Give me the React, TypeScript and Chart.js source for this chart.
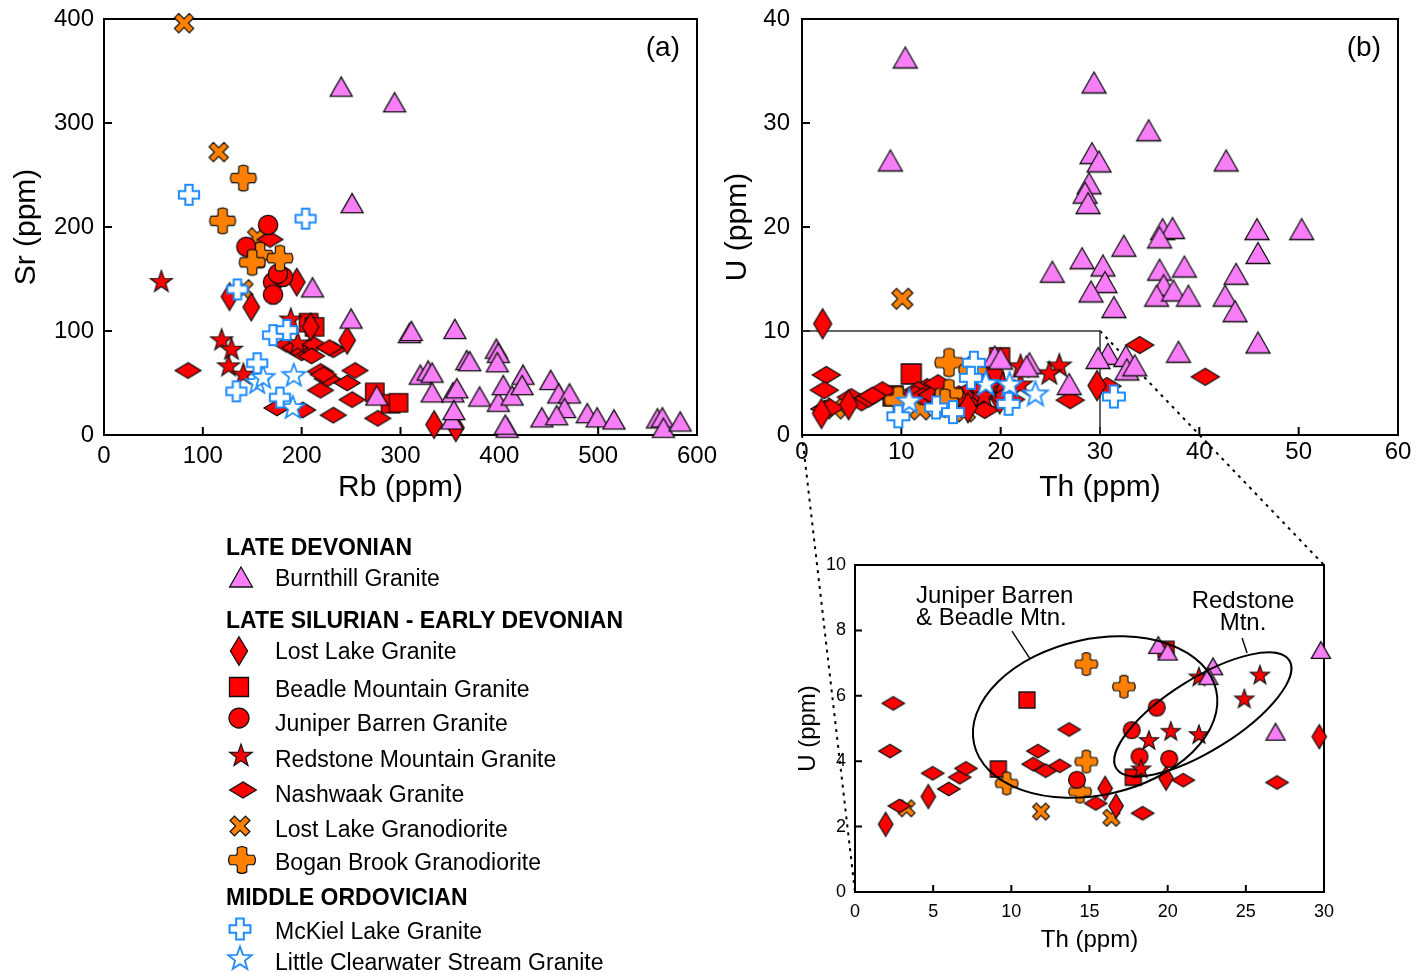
import React, { useEffect, useRef } from 'react';
import { Chart, registerables } from 'chart.js';

Chart.register(...registerables);

// ---------------- Panel (a): Rb (ppm) vs Sr (ppm) ----------------
const aXTicks = [0, 100, 200, 300, 400, 500, 600];
const aYTicks = [0, 100, 200, 300, 400];

const aBurnthillRb = [240, 294, 251, 211, 250, 309, 311, 355, 397, 399, 398, 367, 370, 320, 328, 332, 332, 353, 357, 380, 399, 404, 413, 408, 406, 424, 423, 443, 452, 460, 471, 466, 458, 489, 499, 516, 560, 565, 566, 583, 276, 352, 354];
const aBurnthillSr = [335, 320, 223, 142, 112, 98, 100, 102, 83, 79, 70, 72, 71, 58, 62, 60, 41, 41, 45, 37, 32, 48, 38, 7, 10, 58, 48, 17, 53, 40, 40, 26, 19, 21, 17, 15, 16, 17, 7, 13, 38, 15, 24];
const aLostLakeRb = [195, 149, 127, 209, 246, 334, 356];
const aLostLakeSr = [147, 123, 133, 104, 91, 10, 7];
const aBeadleRb = [207, 213, 274, 290, 298];
const aBeadleSr = [108, 104, 41, 30, 31];
const aJuniperRb = [166, 144, 171, 181, 171, 176];
const aJuniperSr = [202, 181, 147, 152, 135, 155];
const aRedstoneRb = [58, 119, 129, 126, 141, 189, 196];
const aRedstoneSr = [147, 91, 82, 66, 58, 111, 88];
const aNashwaakRb = [85, 168, 175, 201, 232, 277, 185, 212, 232, 200, 219, 226, 254, 246, 219, 251, 210, 222, 193, 228];
const aNashwaakSr = [62, 188, 26, 24, 19, 16, 87, 87, 82, 79, 61, 54, 62, 50, 43, 34, 76, 58, 84, 84];
const aLostLakeGrdRb = [81, 116, 155, 141];
const aLostLakeGrdSr = [396, 272, 190, 140];
const aBoganRb = [141, 120, 158, 150, 178];
const aBoganSr = [247, 206, 173, 166, 170];
const aMcKielRb = [86, 204, 135, 171, 185, 155, 134, 178];
const aMcKielSr = [231, 208, 140, 96, 101, 69, 42, 36];
const aLcsRb = [155, 161, 192, 191];
const aLcsSr = [50, 55, 57, 26];

// ---------------- Inset: Th (ppm) vs U (ppm), 0-30 / 0-10 ----------------
const zoomBoxTh = [0, 30];
const zoomBoxU = [0, 10];
const cXTicks = [0, 5, 10, 15, 20, 25, 30];
const cYTicks = [0, 2, 4, 6, 8, 10];

const cBurnthillTh = [19.4, 20.0, 22.9, 22.6, 26.9, 29.8];
const cBurnthillU = [7.55, 7.35, 6.9, 6.6, 4.9, 7.4];
const cLostLakeTh = [1.96, 4.69, 16.0, 16.7, 19.9, 29.7];
const cLostLakeU = [2.07, 2.92, 3.17, 2.63, 3.48, 4.75];
const cBeadleTh = [11.0, 9.17, 17.8, 19.9];
const cBeadleU = [5.87, 3.76, 3.51, 7.42];
const cJuniperTh = [19.3, 17.7, 18.2, 20.1, 14.2];
const cJuniperU = [5.64, 4.95, 4.14, 4.07, 3.43];
const cRedstoneTh = [22.0, 25.9, 24.9, 20.2, 22.0, 18.8, 18.3];
const cRedstoneU = [6.56, 6.62, 5.89, 4.9, 4.8, 4.62, 3.75];
const cNashwaakTh = [2.45, 2.24, 4.97, 6.0, 6.7, 7.1, 2.84, 11.7, 11.4, 12.2, 13.1, 13.7, 15.4, 18.4, 21.0, 27.0];
const cNashwaakU = [5.77, 4.31, 3.63, 3.15, 3.51, 3.78, 2.63, 4.31, 3.91, 3.71, 3.86, 4.97, 2.71, 2.41, 3.42, 3.35];
const cLostLakeGrdTh = [3.3, 11.9, 16.4];
const cLostLakeGrdU = [2.56, 2.46, 2.27];
const cBoganTh = [14.8, 17.2, 14.8, 9.7, 14.4];
const cBoganU = [6.97, 6.28, 3.99, 3.32, 3.07];

// ---------------- Panel (b): Th (ppm) vs U (ppm) ----------------
const bXTicks = [0, 10, 20, 30, 40, 50, 60];
const bYTicks = [0, 10, 20, 30, 40];

const bBurnthillTh = [10.4, 8.9, 29.4, 34.9, 29.2, 29.9, 42.7, 28.9, 28.5, 28.8, 36.3, 37.3, 36.0, 45.8, 50.3, 32.4, 45.9, 28.2, 30.3, 25.2, 36.0, 38.5, 43.7, 30.5, 36.4, 29.1, 35.7, 37.4, 38.9, 42.6, 31.4, 43.6, 45.9, 37.9, 30.8, 32.6, 32.7, 33.5];
const bBurnthillU = [36.3, 26.4, 33.9, 29.3, 27.1, 26.3, 26.4, 24.2, 23.3, 22.3, 19.8, 19.9, 19.0, 19.8, 19.8, 18.2, 17.5, 17.0, 16.3, 15.7, 15.9, 16.2, 15.5, 14.7, 14.4, 13.8, 13.4, 13.9, 13.4, 13.4, 12.3, 11.9, 8.9, 8.0, 7.8, 7.6, 6.3, 6.7];
const bNashwaakTh = [8.1, 12.6, 14.7, 15.8, 16.8, 30.7, 34.0, 40.6, 2.3];
const bNashwaakU = [4.3, 4.6, 4.1, 3.9, 4.2, 4.7, 8.65, 5.6, 2.5];
const bLostLakeTh = [2.08];
const bLostLakeU = [10.7];
const bLostLakeGrdTh = [10.1];
const bLostLakeGrdU = [13.1];
const bMcKielTh = [17.3, 17.0, 9.7, 13.5, 15.2, 20.8, 31.4];
const bMcKielU = [6.95, 5.5, 1.8, 2.65, 2.2, 3.0, 3.7];
const bLcsTh = [10.8, 18.5, 20.9, 23.5];
const bLcsU = [3.2, 4.9, 4.8, 3.9];

// ---------------- names ----------------
const N_BURNTHILL = 'Burnthill Granite';
const N_LOSTLAKE = 'Lost Lake Granite';
const N_BEADLE = 'Beadle Mountain Granite';
const N_JUNIPER = 'Juniper Barren Granite';
const N_REDSTONE = 'Redstone Mountain Granite';
const N_NASHWAAK = 'Nashwaak Granite';
const N_LOSTLAKEGRD = 'Lost Lake Granodiorite';
const N_BOGAN = 'Bogan Brook Granodiorite';
const N_MCKIEL = 'McKiel Lake Granite';
const N_LCS = 'Little Clearwater Stream Granite';

// ---------------- styling ----------------
const PINK = '#f77ef7';
const RED = '#ff0000';
const ORANGE = '#ff8000';
const BLUE = '#1e8cff';
const FONT = "'Liberation Sans', Arial, Helvetica, sans-serif";

type Kind = 'triangle' | 'tallDiamond' | 'wideDiamond' | 'square' | 'circle' | 'star' | 'xcross' | 'plusFilled' | 'plusOpen' | 'starOpen';

const KIND_STYLE: Record<Kind, { fill: string; stroke: string; lw: number }> = {
  triangle: { fill: PINK, stroke: '#111', lw: 1.3 },
  tallDiamond: { fill: RED, stroke: '#111', lw: 1.3 },
  wideDiamond: { fill: RED, stroke: '#111', lw: 1.3 },
  square: { fill: RED, stroke: '#111', lw: 1.3 },
  circle: { fill: RED, stroke: '#111', lw: 1.3 },
  star: { fill: RED, stroke: '#111', lw: 1.2 },
  xcross: { fill: ORANGE, stroke: '#111', lw: 1.2 },
  plusFilled: { fill: ORANGE, stroke: '#111', lw: 1.2 },
  plusOpen: { fill: '#ffffff', stroke: BLUE, lw: 2 },
  starOpen: { fill: '#ffffff', stroke: BLUE, lw: 1.8 },
};

function starPath(ctx: CanvasRenderingContext2D, R: number, r: number) {
  for (let i = 0; i < 10; i++) {
    const ang = -Math.PI / 2 + (i * Math.PI) / 5;
    const rad = i % 2 === 0 ? R : r;
    const px = Math.cos(ang) * rad;
    const py = Math.sin(ang) * rad;
    if (i === 0) ctx.moveTo(px, py);
    else ctx.lineTo(px, py);
  }
  ctx.closePath();
}

function plusPoints(L: number, t: number) {
  return [[-t, -L], [t, -L], [t, -t], [L, -t], [L, t], [t, t], [t, L], [-t, L], [-t, t], [-L, t], [-L, -t], [-t, -t]];
}

function tracePath(ctx: CanvasRenderingContext2D, kind: Kind, s: number) {
  ctx.beginPath();
  switch (kind) {
    case 'triangle': {
      const w = 24 * s, h = 21 * s;
      ctx.moveTo(0, -h / 2); ctx.lineTo(w / 2, h / 2); ctx.lineTo(-w / 2, h / 2); ctx.closePath();
      break;
    }
    case 'tallDiamond': {
      const w = 18 * s, h = 30 * s;
      ctx.moveTo(0, -h / 2); ctx.lineTo(w / 2, 0); ctx.lineTo(0, h / 2); ctx.lineTo(-w / 2, 0); ctx.closePath();
      break;
    }
    case 'wideDiamond': {
      const w = 28 * s, h = 17 * s;
      ctx.moveTo(0, -h / 2); ctx.lineTo(w / 2, 0); ctx.lineTo(0, h / 2); ctx.lineTo(-w / 2, 0); ctx.closePath();
      break;
    }
    case 'square': {
      const a = 20 * s;
      ctx.rect(-a / 2, -a / 2, a, a);
      break;
    }
    case 'circle':
      ctx.arc(0, 0, 10.5 * s, 0, Math.PI * 2);
      break;
    case 'star':
      starPath(ctx, 12.5 * s, 5 * s);
      break;
    case 'starOpen':
      starPath(ctx, 13 * s, 5.4 * s);
      break;
    case 'xcross': {
      const pts = plusPoints(11.5 * s, 3.3 * s).map(([x, y]) => [(x - y) / Math.SQRT2, (x + y) / Math.SQRT2]);
      pts.forEach(([x, y], i) => (i === 0 ? ctx.moveTo(x, y) : ctx.lineTo(x, y)));
      ctx.closePath();
      break;
    }
    case 'plusOpen': {
      const pts = plusPoints(11 * s, 4 * s);
      pts.forEach(([x, y], i) => (i === 0 ? ctx.moveTo(x, y) : ctx.lineTo(x, y)));
      ctx.closePath();
      break;
    }
    case 'plusFilled': {
      const L = 12.5 * s, t = 5 * s, f = 2.2 * s, bul = 1.6 * s;
      const P = (k: number, x: number, y: number) => {
        let X = x, Y = y;
        for (let i = 0; i < k; i++) { const nx = -Y, ny = X; X = nx; Y = ny; }
        return [X, Y];
      };
      for (let k = 0; k < 4; k++) {
        const a = P(k, -t, -L);
        if (k === 0) ctx.moveTo(a[0], a[1]); else ctx.lineTo(a[0], a[1]);
        const c1 = P(k, 0, -L - 2 * bul), e1 = P(k, t, -L);
        ctx.quadraticCurveTo(c1[0], c1[1], e1[0], e1[1]);
        const p = P(k, t, -t - f);
        ctx.lineTo(p[0], p[1]);
        const c2 = P(k, t, -t), e2 = P(k, t + f, -t);
        ctx.quadraticCurveTo(c2[0], c2[1], e2[0], e2[1]);
      }
      ctx.closePath();
      break;
    }
  }
}

function drawMarker(ctx: CanvasRenderingContext2D, kind: Kind, s: number, cx: number, cy: number) {
  const st = KIND_STYLE[kind];
  ctx.save();
  ctx.translate(cx, cy);
  tracePath(ctx, kind, s);
  ctx.fillStyle = st.fill;
  ctx.fill();
  ctx.lineWidth = st.lw;
  ctx.strokeStyle = st.stroke;
  ctx.lineJoin = 'miter';
  ctx.stroke();
  ctx.restore();
}

function markerCanvas(kind: Kind, s: number) {
  const c = document.createElement('canvas');
  const size = Math.ceil((34 * s) / 2) * 2 + 4;
  c.width = size;
  c.height = size;
  const ctx = c.getContext('2d')!;
  drawMarker(ctx, kind, s, size / 2, size / 2);
  return c;
}

// ---------------- layout ----------------
const LAYOUT = {
  a: { left: 0, top: 0, w: 730, h: 510, pad: { top: 19, right: 33, left: 0, bottom: 0 }, yW: 104, xH: 75 },
  b: { left: 720, top: 0, w: 696, h: 510, pad: { top: 19, right: 18, left: 0, bottom: 0 }, yW: 82, xH: 75 },
  c: { left: 780, top: 540, w: 636, h: 433, pad: { top: 25, right: 92, left: 0, bottom: 0 }, yW: 75, xH: 81 },
};

interface Series { label: string; kind: Kind; x: number[]; y: number[] }

interface PanelSpec {
  series: Series[];
  scale: number;
  L: typeof LAYOUT.a;
  xMin: number; xMax: number; yMin: number; yMax: number;
  xTicks: number[]; yTicks: number[];
  tickFont: number; titleFont: number;
  xTitle: string; yTitle: string;
  xLabelPad: number; yLabelPad: number; xTitlePad: number; yTitlePad: number;
  plugin: any;
}

function zeroPad(sc: any) {
  sc.paddingTop = 0;
  sc.paddingBottom = 0;
  sc.paddingLeft = 0;
  sc.paddingRight = 0;
}

function makeConfig(p: PanelSpec): any {
  return {
    type: 'scatter',
    data: {
      datasets: p.series.map((s) => ({
        label: s.label,
        data: s.x.map((v, i) => ({ x: v, y: s.y[i] })),
        pointStyle: markerCanvas(s.kind, p.scale),
        pointRadius: 8,
        pointHoverRadius: 8,
        clip: false,
      })),
    },
    options: {
      animation: false,
      responsive: false,
      maintainAspectRatio: false,
      events: [],
      layout: { padding: p.L.pad },
      plugins: { legend: { display: false }, tooltip: { enabled: false } },
      scales: {
        x: {
          type: 'linear', position: 'bottom', min: p.xMin, max: p.xMax,
          afterBuildTicks: (sc: any) => { sc.ticks = p.xTicks.map((v) => ({ value: v })); },
          afterFit: (sc: any) => { sc.height = p.L.xH; zeroPad(sc); },
          ticks: { color: '#000', font: { family: FONT, size: p.tickFont }, padding: p.xLabelPad, maxRotation: 0, autoSkip: false },
          grid: { display: false, drawTicks: false },
          border: { display: false },
          title: { display: true, text: p.xTitle, color: '#000', font: { family: FONT, size: p.titleFont }, padding: { top: 0, bottom: p.xTitlePad } },
        },
        y: {
          type: 'linear', position: 'left', min: p.yMin, max: p.yMax,
          afterBuildTicks: (sc: any) => { sc.ticks = p.yTicks.map((v) => ({ value: v })); },
          afterFit: (sc: any) => { sc.width = p.L.yW; zeroPad(sc); },
          ticks: { color: '#000', font: { family: FONT, size: p.tickFont }, padding: p.yLabelPad, autoSkip: false },
          grid: { display: false, drawTicks: false },
          border: { display: false },
          title: { display: true, text: p.yTitle, color: '#000', font: { family: FONT, size: p.titleFont }, padding: { top: p.yTitlePad, bottom: 0 } },
        },
      },
    },
    plugins: [p.plugin],
  };
}

function framePlugin(id: string, tickLen: number, lw: number, before?: (c: any) => void, after?: (c: any) => void) {
  return {
    id,
    beforeDatasetsDraw(chart: any) {
      const { ctx, chartArea: a, scales } = chart;
      const x = scales.x, y = scales.y;
      ctx.save();
      ctx.strokeStyle = '#000';
      ctx.lineWidth = lw;
      ctx.strokeRect(a.left, a.top, a.right - a.left, a.bottom - a.top);
      ctx.beginPath();
      x.ticks.forEach((t: any) => {
        if (t.value <= x.min || t.value >= x.max) return;
        const px = x.getPixelForValue(t.value);
        ctx.moveTo(px, a.bottom);
        ctx.lineTo(px, a.bottom - tickLen);
      });
      y.ticks.forEach((t: any) => {
        if (t.value <= y.min || t.value >= y.max) return;
        const py = y.getPixelForValue(t.value);
        ctx.moveTo(a.left, py);
        ctx.lineTo(a.left + tickLen, py);
      });
      ctx.stroke();
      ctx.restore();
      if (before) before(chart);
    },
    afterDatasetsDraw(chart: any) {
      if (after) after(chart);
    },
  };
}

function panelLabel(text: string) {
  return (chart: any) => {
    const { ctx, chartArea: a } = chart;
    ctx.save();
    ctx.fillStyle = '#000';
    ctx.font = `28px ${FONT}`;
    ctx.textAlign = 'right';
    ctx.textBaseline = 'middle';
    ctx.fillText(text, a.right - 17, a.top + 29);
    ctx.restore();
  };
}

// inset annotations (data units for anchors)
const cEllipses = [
  { cx: 15.36, cy: 5.35, rx: 124, ry: 78, rot: -12.5 },
  { cx: 22.25, cy: 5.43, rx: 102, ry: 36, rot: -32 },
];
const cLeaders = [
  { x1: 10.04, y1: 7.98, x2: 11.2, y2: 7.13 },
  { x1: 24.76, y1: 7.77, x2: 25.08, y2: 7.31 },
];
const cTexts = [
  { text: 'Juniper Barren', x: 3.9, y: 9.05, align: 'left' },
  { text: '& Beadle Mtn.', x: 3.9, y: 8.38, align: 'left' },
  { text: 'Redstone', x: 24.82, y: 8.9, align: 'center' },
  { text: 'Mtn.', x: 24.82, y: 8.2, align: 'center' },
];

const legendHeaders = [
  { text: 'LATE DEVONIAN', y: 547 },
  { text: 'LATE SILURIAN - EARLY DEVONIAN', y: 620 },
  { text: 'MIDDLE ORDOVICIAN', y: 897 },
];
const legendItems: { kind: Kind; text: string; y: number; mx: number; my: number }[] = [
  { kind: 'triangle', text: N_BURNTHILL, y: 578, mx: 241, my: 577 },
  { kind: 'tallDiamond', text: N_LOSTLAKE, y: 651, mx: 239, my: 651 },
  { kind: 'square', text: N_BEADLE, y: 689, mx: 239, my: 687 },
  { kind: 'circle', text: N_JUNIPER, y: 723, mx: 239, my: 718 },
  { kind: 'star', text: N_REDSTONE, y: 759, mx: 241, my: 756 },
  { kind: 'wideDiamond', text: N_NASHWAAK, y: 794, mx: 243, my: 790 },
  { kind: 'xcross', text: N_LOSTLAKEGRD, y: 829, mx: 240, my: 826 },
  { kind: 'plusFilled', text: N_BOGAN, y: 862, mx: 242, my: 860 },
  { kind: 'plusOpen', text: N_MCKIEL, y: 931, mx: 240, my: 929 },
  { kind: 'starOpen', text: N_LCS, y: 962, mx: 240, my: 959 },
];

function LegendMarker({ kind, x, y }: { kind: Kind; x: number; y: number }) {
  const ref = useRef<HTMLCanvasElement>(null);
  useEffect(() => {
    const c = ref.current;
    if (!c) return;
    const ctx = c.getContext('2d')!;
    ctx.clearRect(0, 0, 40, 40);
    drawMarker(ctx, kind, 0.95, 20, 20);
  }, [kind]);
  return <canvas ref={ref} width={40} height={40} style={{ position: 'absolute', left: x - 20, top: y - 20 }} />;
}

export default function App() {
  const oRef = useRef<HTMLCanvasElement>(null);
  const aRef = useRef<HTMLCanvasElement>(null);
  const bRef = useRef<HTMLCanvasElement>(null);
  const cRef = useRef<HTMLCanvasElement>(null);

  useEffect(() => {
    const seriesA: Series[] = [
      { label: N_MCKIEL, kind: 'plusOpen', x: aMcKielRb, y: aMcKielSr },
      { label: N_LCS, kind: 'starOpen', x: aLcsRb, y: aLcsSr },
      { label: N_BURNTHILL, kind: 'triangle', x: aBurnthillRb, y: aBurnthillSr },
      { label: N_REDSTONE, kind: 'star', x: aRedstoneRb, y: aRedstoneSr },
      { label: N_BOGAN, kind: 'plusFilled', x: aBoganRb, y: aBoganSr },
      { label: N_JUNIPER, kind: 'circle', x: aJuniperRb, y: aJuniperSr },
      { label: N_LOSTLAKE, kind: 'tallDiamond', x: aLostLakeRb, y: aLostLakeSr },
      { label: N_NASHWAAK, kind: 'wideDiamond', x: aNashwaakRb, y: aNashwaakSr },
      { label: N_LOSTLAKEGRD, kind: 'xcross', x: aLostLakeGrdRb, y: aLostLakeGrdSr },
      { label: N_BEADLE, kind: 'square', x: aBeadleRb, y: aBeadleSr },
    ];
    const seriesB: Series[] = [
      { label: N_MCKIEL, kind: 'plusOpen', x: bMcKielTh, y: bMcKielU },
      { label: N_LCS, kind: 'starOpen', x: bLcsTh, y: bLcsU },
      { label: N_BURNTHILL, kind: 'triangle', x: [...bBurnthillTh, ...cBurnthillTh], y: [...bBurnthillU, ...cBurnthillU] },
      { label: N_REDSTONE, kind: 'star', x: cRedstoneTh, y: cRedstoneU },
      { label: N_BOGAN, kind: 'plusFilled', x: cBoganTh, y: cBoganU },
      { label: N_JUNIPER, kind: 'circle', x: cJuniperTh, y: cJuniperU },
      { label: N_LOSTLAKE, kind: 'tallDiamond', x: [...bLostLakeTh, ...cLostLakeTh], y: [...bLostLakeU, ...cLostLakeU] },
      { label: N_NASHWAAK, kind: 'wideDiamond', x: [...bNashwaakTh, ...cNashwaakTh], y: [...bNashwaakU, ...cNashwaakU] },
      { label: N_LOSTLAKEGRD, kind: 'xcross', x: [...bLostLakeGrdTh, ...cLostLakeGrdTh], y: [...bLostLakeGrdU, ...cLostLakeGrdU] },
      { label: N_BEADLE, kind: 'square', x: cBeadleTh, y: cBeadleU },
    ];
    const seriesC: Series[] = [
      { label: N_BURNTHILL, kind: 'triangle', x: cBurnthillTh, y: cBurnthillU },
      { label: N_REDSTONE, kind: 'star', x: cRedstoneTh, y: cRedstoneU },
      { label: N_JUNIPER, kind: 'circle', x: cJuniperTh, y: cJuniperU },
      { label: N_BOGAN, kind: 'plusFilled', x: cBoganTh, y: cBoganU },
      { label: N_LOSTLAKE, kind: 'tallDiamond', x: cLostLakeTh, y: cLostLakeU },
      { label: N_NASHWAAK, kind: 'wideDiamond', x: cNashwaakTh, y: cNashwaakU },
      { label: N_LOSTLAKEGRD, kind: 'xcross', x: cLostLakeGrdTh, y: cLostLakeGrdU },
      { label: N_BEADLE, kind: 'square', x: cBeadleTh, y: cBeadleU },
    ];

    const pluginA = framePlugin('frameA', 8, 2, undefined, panelLabel('(a)'));
    const pluginB = framePlugin('frameB', 8, 2, (chart: any) => {
      const { ctx, scales } = chart;
      const x = scales.x, y = scales.y;
      ctx.save();
      ctx.strokeStyle = '#333';
      ctx.lineWidth = 1.5;
      ctx.beginPath();
      ctx.moveTo(x.getPixelForValue(zoomBoxTh[0]), y.getPixelForValue(zoomBoxU[1]));
      ctx.lineTo(x.getPixelForValue(zoomBoxTh[1]), y.getPixelForValue(zoomBoxU[1]));
      ctx.lineTo(x.getPixelForValue(zoomBoxTh[1]), y.getPixelForValue(zoomBoxU[0]));
      ctx.stroke();
      ctx.restore();
    }, panelLabel('(b)'));
    const pluginC = framePlugin('frameC', 7, 2, undefined, (chart: any) => {
      const { ctx, scales } = chart;
      const x = scales.x, y = scales.y;
      ctx.save();
      ctx.strokeStyle = '#000';
      ctx.lineWidth = 2;
      for (const e of cEllipses) {
        ctx.beginPath();
        ctx.ellipse(x.getPixelForValue(e.cx), y.getPixelForValue(e.cy), e.rx, e.ry, (e.rot * Math.PI) / 180, 0, Math.PI * 2);
        ctx.stroke();
      }
      ctx.lineWidth = 1.4;
      for (const l of cLeaders) {
        ctx.beginPath();
        ctx.moveTo(x.getPixelForValue(l.x1), y.getPixelForValue(l.y1));
        ctx.lineTo(x.getPixelForValue(l.x2), y.getPixelForValue(l.y2));
        ctx.stroke();
      }
      ctx.fillStyle = '#000';
      ctx.font = `24px ${FONT}`;
      ctx.textBaseline = 'middle';
      for (const t of cTexts) {
        ctx.textAlign = t.align as CanvasTextAlign;
        ctx.fillText(t.text, x.getPixelForValue(t.x), y.getPixelForValue(t.y));
      }
      ctx.restore();
    });

    const chartA = new Chart(aRef.current!, makeConfig({
      series: seriesA, scale: 0.92, L: LAYOUT.a,
      xMin: 0, xMax: 600, yMin: 0, yMax: 400, xTicks: aXTicks, yTicks: aYTicks,
      tickFont: 24, titleFont: 30, xTitle: 'Rb (ppm)', yTitle: 'Sr (ppm)',
      xLabelPad: 7, yLabelPad: 10, xTitlePad: 4, yTitlePad: 9, plugin: pluginA,
    }));
    const chartB = new Chart(bRef.current!, makeConfig({
      series: seriesB, scale: 1.0, L: LAYOUT.b,
      xMin: 0, xMax: 60, yMin: 0, yMax: 40, xTicks: bXTicks, yTicks: bYTicks,
      tickFont: 24, titleFont: 30, xTitle: 'Th (ppm)', yTitle: 'U (ppm)',
      xLabelPad: 3, yLabelPad: 12, xTitlePad: 4, yTitlePad: 0, plugin: pluginB,
    }));
    const chartC = new Chart(cRef.current!, makeConfig({
      series: seriesC, scale: 0.8, L: LAYOUT.c,
      xMin: zoomBoxTh[0], xMax: zoomBoxTh[1], yMin: zoomBoxU[0], yMax: zoomBoxU[1], xTicks: cXTicks, yTicks: cYTicks,
      tickFont: 18, titleFont: 24, xTitle: 'Th (ppm)', yTitle: 'U (ppm)',
      xLabelPad: 9, yLabelPad: 9, xTitlePad: 18, yTitlePad: 14, plugin: pluginC,
    }));

    // dotted connector lines between panel (b) zoom box and the inset
    const o = oRef.current!;
    const octx = o.getContext('2d')!;
    octx.clearRect(0, 0, o.width, o.height);
    const bx = (v: number) => LAYOUT.b.left + chartB.scales.x.getPixelForValue(v);
    const by = (v: number) => LAYOUT.b.top + chartB.scales.y.getPixelForValue(v);
    const cx = (v: number) => LAYOUT.c.left + chartC.scales.x.getPixelForValue(v);
    const cy = (v: number) => LAYOUT.c.top + chartC.scales.y.getPixelForValue(v);
    octx.save();
    octx.strokeStyle = '#000';
    octx.lineWidth = 2;
    octx.setLineDash([3, 5]);
    octx.beginPath();
    octx.moveTo(bx(zoomBoxTh[0]), by(zoomBoxU[0]));
    octx.lineTo(cx(zoomBoxTh[0]), cy(zoomBoxU[0]));
    octx.moveTo(bx(zoomBoxTh[1]), by(zoomBoxU[1]));
    octx.lineTo(cx(zoomBoxTh[1]), cy(zoomBoxU[1]));
    octx.stroke();
    octx.restore();

    return () => {
      chartA.destroy();
      chartB.destroy();
      chartC.destroy();
    };
  }, []);

  const canvasStyle = (l: { left: number; top: number; w: number; h: number }) => ({
    position: 'absolute' as const, left: l.left, top: l.top, width: l.w, height: l.h,
  });

  return (
    <div style={{ position: 'absolute', left: 0, top: 0, width: 1416, height: 973, overflow: 'hidden', background: '#fff', fontFamily: FONT, color: '#000' }}>
      <canvas ref={oRef} width={1416} height={973} style={{ position: 'absolute', left: 0, top: 0 }} />
      <canvas ref={aRef} width={LAYOUT.a.w} height={LAYOUT.a.h} style={canvasStyle(LAYOUT.a)} />
      <canvas ref={bRef} width={LAYOUT.b.w} height={LAYOUT.b.h} style={canvasStyle(LAYOUT.b)} />
      <canvas ref={cRef} width={LAYOUT.c.w} height={LAYOUT.c.h} style={canvasStyle(LAYOUT.c)} />
      {legendHeaders.map((h) => (
        <div key={h.text} style={{ position: 'absolute', left: 226, top: h.y - 14, height: 28, lineHeight: '28px', fontSize: 23, fontWeight: 'bold', whiteSpace: 'nowrap' }}>
          {h.text}
        </div>
      ))}
      {legendItems.map((it) => (
        <React.Fragment key={it.text}>
          <LegendMarker kind={it.kind} x={it.mx} y={it.my} />
          <div style={{ position: 'absolute', left: 275, top: it.y - 14, height: 28, lineHeight: '28px', fontSize: 23, whiteSpace: 'nowrap' }}>
            {it.text}
          </div>
        </React.Fragment>
      ))}
    </div>
  );
}
